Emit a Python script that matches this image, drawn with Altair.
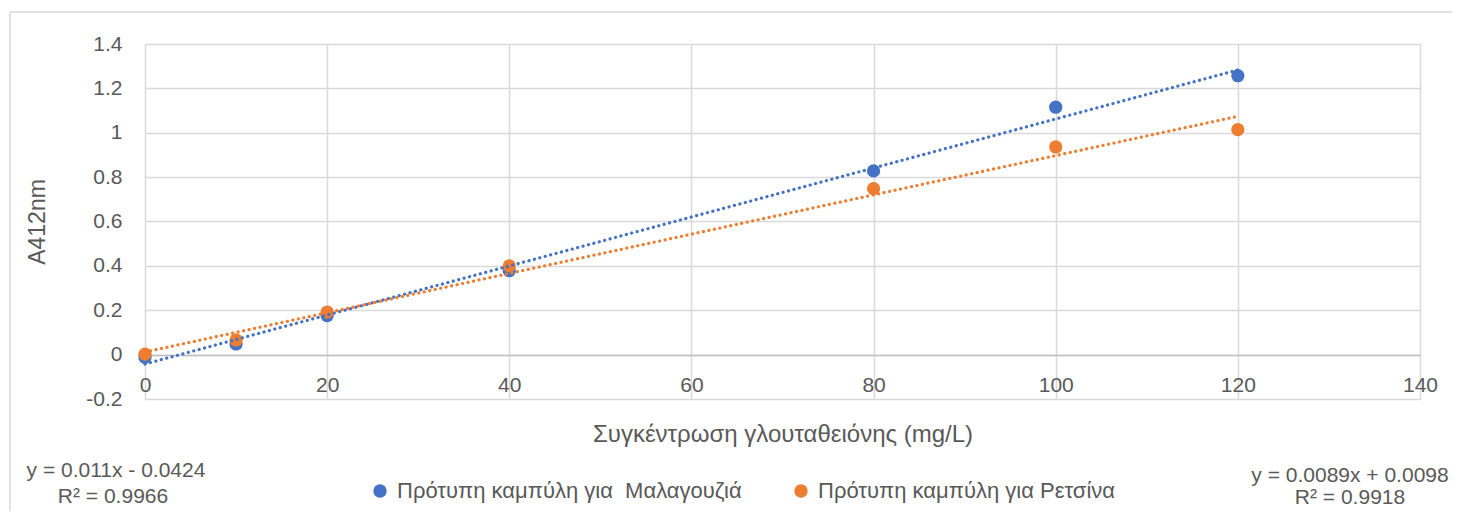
import altair as alt
import pandas as pd

# ---- data ----
conc = [0, 10, 20, 40, 80, 100, 120]
malagouzia = [-0.012, 0.048, 0.176, 0.378, 0.828, 1.115, 1.257]
retsina = [0.002, 0.066, 0.192, 0.400, 0.748, 0.936, 1.014]
series_names = ["Πρότυπη καμπύλη για  Μαλαγουζιά", "Πρότυπη καμπύλη για Ρετσίνα"]
series_colors = ["#4472C4", "#ED7D31"]
x_ticks = [0, 20, 40, 60, 80, 100, 120, 140]
y_ticks = [-0.2, 0, 0.2, 0.4, 0.6, 0.8, 1.0, 1.2, 1.4]
eq_left = ["y = 0.011x - 0.0424", "R² = 0.9966"]
eq_right = ["y = 0.0089x + 0.0098", "R² = 0.9918"]
x_title = "Συγκέντρωση γλουταθειόνης (mg/L)"
y_title = "A412nm"

rows = []
for c, a, b in zip(conc, malagouzia, retsina):
    rows.append({"conc": c, "A": a, "series": series_names[0]})
    rows.append({"conc": c, "A": b, "series": series_names[1]})
df = pd.DataFrame(rows)
one = pd.DataFrame({"k": [0]})

FONT = "Liberation Sans"
W, H = 1275, 355
GRID = "#D9D9D9"
TXT = "#595959"

xscale = alt.Scale(domain=[0, 140], nice=False)
yscale = alt.Scale(domain=[-0.2, 1.4], nice=False)
color = alt.Color("series:N",
                  scale=alt.Scale(domain=series_names, range=series_colors),
                  legend=alt.Legend(title=None, orient="none", direction="horizontal",
                                    legendX=224, legendY=436, symbolType="circle",
                                    symbolSize=180, labelFontSize=22, labelFont=FONT,
                                    labelColor=TXT, columnPadding=48, labelLimit=500,
                                    labelOffset=6, symbolStrokeWidth=0,
                                    labelExpr="replace(datum.label, '  ', '\u00a0 ')"))

base = alt.Chart(df)

points = base.mark_point(filled=True, size=175, opacity=1).encode(
    x=alt.X("conc:Q", scale=xscale,
            axis=alt.Axis(values=x_ticks, title=x_title, grid=True, gridColor=GRID,
                          gridWidth=1.5, domainColor="#BFBFBF", domainWidth=1.5,
                          ticks=False, offset=-44, labelFontSize=21, labelColor=TXT,
                          labelFont=FONT, labelPadding=19, labelFlush=False,
                          titleFontSize=24, titleFont=FONT, titleColor=TXT,
                          titleFontWeight="normal", titlePadding=27)),
    y=alt.Y("A:Q", scale=yscale,
            axis=alt.Axis(values=y_ticks, title=y_title, grid=True, gridColor=GRID,
                          gridWidth=1.5, domain=False, ticks=False, labelFontSize=21,
                          labelColor=TXT, labelFont=FONT, labelPadding=23,
                          labelExpr="datum.value < 0 ? '-' + format(-datum.value, '~g') : format(datum.value, '~g')",
                          titleFontSize=23, titleFont=FONT, titleColor=TXT,
                          titleFontWeight="normal", titlePadding=36)),
    color=color,
)

trend = base.transform_regression("conc", "A", groupby=["series"], extent=[0, 120]).mark_line(
    strokeDash=[0.1, 5.5], strokeCap="round", strokeWidth=3.2
).encode(
    x=alt.X("conc:Q", scale=xscale),
    y=alt.Y("A:Q", scale=yscale),
    color=alt.Color("series:N", scale=alt.Scale(domain=series_names, range=series_colors), legend=None),
)

def label(txt, x, y):
    return alt.Chart(one).mark_text(fontSize=21, font=FONT, color=TXT, align="center",
                                    baseline="middle").encode(
        text=alt.value(txt), x=alt.value(x), y=alt.value(y))

ann = [label(eq_left[0], -29, 427), label(eq_left[1], -32, 453),
       label(eq_right[0], 1205, 432), label(eq_right[1], 1205, 454)]

border = alt.Chart(one).mark_rule(color=GRID, strokeWidth=1.5).encode(
    x=alt.value(-135), x2=alt.value(1310), y=alt.value(-32))
border2 = alt.Chart(one).mark_rule(color=GRID, strokeWidth=1.5).encode(
    x=alt.value(-135), y=alt.value(-32), y2=alt.value(480))

chart = alt.layer(border, border2, points, trend, *ann).properties(
    width=W, height=H,
    autosize=alt.AutoSizeParams(type="none"),
    padding={"left": 137, "top": 36, "right": 32, "bottom": 112},
).configure_view(stroke=None).configure(font=FONT)

chart.save("out.html", embed_options={"renderer": "svg", "actions": False})
